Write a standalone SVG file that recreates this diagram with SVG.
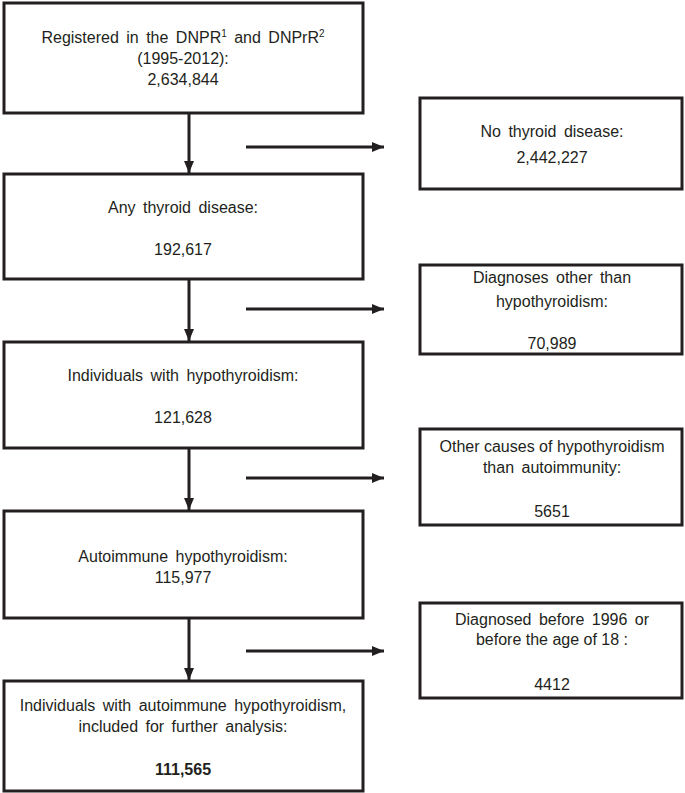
<svg xmlns="http://www.w3.org/2000/svg" width="685" height="793" viewBox="0 0 685 793">
<defs>
<marker id="ah" markerUnits="userSpaceOnUse" markerWidth="12" markerHeight="12" viewBox="0 0 12 12" refX="12" refY="6" orient="auto">
<path d="M0,1 L12,6 L0,11 Z" fill="#231f20"/>
</marker>
</defs>
<style>
.box{fill:#fff;stroke:#231f20;stroke-width:3}
.t{font-family:"Liberation Sans",Arial,sans-serif;font-size:16px;fill:#231f20;text-anchor:middle}
.w{word-spacing:3px}
.b{font-weight:bold}
.c{stroke:#231f20;stroke-width:3;fill:none;marker-end:url(#ah)}
</style>
<rect width="685" height="793" fill="#fff"/>
<g id="n1">
<rect class="box" x="4" y="3" width="359" height="110"/>
<text class="t w" x="183" y="43">Registered in the DNPR<tspan font-size="10" dy="-6">1</tspan><tspan dy="6"> and DNPrR</tspan><tspan font-size="10" dy="-6">2</tspan></text>
<text class="t" x="183" y="64">(1995-2012):</text>
<text class="t" x="183" y="85">2,634,844</text>
</g>
<g id="n2">
<rect class="box" x="4" y="174" width="359" height="105"/>
<text class="t w" x="183" y="213">Any thyroid disease:</text>
<text class="t" x="183" y="255">192,617</text>
</g>
<g id="n3">
<rect class="box" x="4" y="342" width="359" height="106"/>
<text class="t w" x="183" y="381">Individuals with hypothyroidism:</text>
<text class="t" x="183" y="423">121,628</text>
</g>
<g id="n4">
<rect class="box" x="4" y="511" width="359" height="107"/>
<text class="t w" x="183" y="562">Autoimmune hypothyroidism:</text>
<text class="t" x="183" y="583">115,977</text>
</g>
<g id="n5">
<rect class="box" x="4" y="681" width="359" height="110"/>
<text class="t w" x="183" y="711">Individuals with autoimmune hypothyroidism,</text>
<text class="t w" x="183" y="732">included for further analysis:</text>
<text class="t b" x="183" y="775">111,565</text>
</g>
<g id="s1">
<rect class="box" x="420" y="98" width="262" height="91"/>
<text class="t w" x="552" y="137">No thyroid disease:</text>
<text class="t" x="552" y="163">2,442,227</text>
</g>
<g id="s2">
<rect class="box" x="420" y="265" width="262" height="89"/>
<text class="t w" x="552" y="283">Diagnoses other than</text>
<text class="t" x="552" y="307">hypothyroidism:</text>
<text class="t" x="552" y="349">70,989</text>
</g>
<g id="s3">
<rect class="box" x="420" y="429" width="262" height="96"/>
<text class="t" x="552" y="452">Other causes of hypothyroidism</text>
<text class="t w" x="552" y="473">than autoimmunity:</text>
<text class="t" x="552" y="517">5651</text>
</g>
<g id="s4">
<rect class="box" x="420" y="603" width="262" height="95"/>
<text class="t w" x="552" y="625">Diagnosed before 1996 or</text>
<text class="t" x="552" y="645">before the age of 18 :</text>
<text class="t" x="552" y="690">4412</text>
</g>
<g id="connectors">
<line class="c" x1="189" y1="113" x2="189" y2="173"/>
<line class="c" x1="189" y1="279" x2="189" y2="341"/>
<line class="c" x1="189" y1="448" x2="189" y2="510"/>
<line class="c" x1="189" y1="618" x2="189" y2="680"/>
<line class="c" x1="246" y1="147" x2="384" y2="147"/>
<line class="c" x1="246" y1="309" x2="384" y2="309"/>
<line class="c" x1="246" y1="478" x2="384" y2="478"/>
<line class="c" x1="246" y1="651" x2="384" y2="651"/>
</g>
</svg>
